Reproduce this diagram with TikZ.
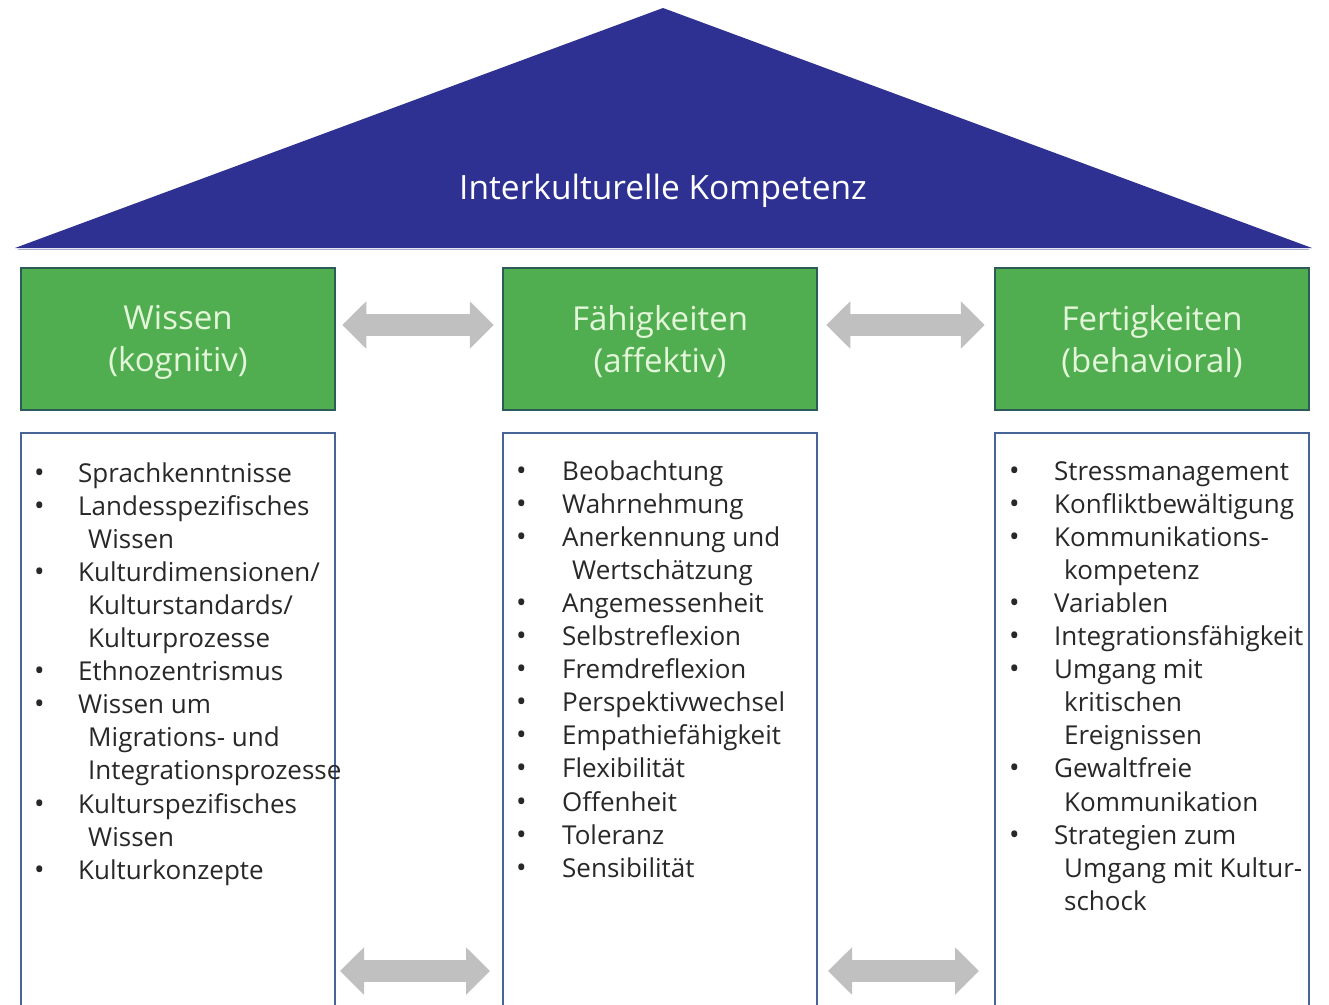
\documentclass[tikz,border=0pt]{standalone}
\usepackage{fontspec}
\setmainfont{Open Sans}
\usetikzlibrary{arrows.meta}
\definecolor{roofblue}{RGB}{46,49,146}
\definecolor{boxgreen}{RGB}{80,174,80}
\definecolor{boxedge}{RGB}{44,92,88}
\definecolor{hdrtext}{RGB}{228,246,218}
\definecolor{arrgray}{RGB}{192,192,192}
\definecolor{listedge}{RGB}{72,100,150}
\definecolor{listtext}{RGB}{40,40,40}
\tikzset{
  hdr/.style={draw=boxedge, line width=2.5pt, fill=boxgreen, text=hdrtext,
    minimum width=314pt, minimum height=142pt, align=center, inner sep=0pt,
    font=\fontsize{33}{42}\selectfont},
  hdrtxt/.style={text=hdrtext, align=center, inner sep=0pt,
    font=\fontsize{33}{42}\selectfont},
  listbox/.style={draw=listedge, line width=2pt, fill=white,
    minimum width=314pt, minimum height=577pt, inner sep=0pt},
  item/.style={anchor=base west, inner sep=0pt, text=listtext,
    font=\fontsize{26}{33}\selectfont},
  bulletnode/.style={anchor=base west, inner sep=0pt, text=listtext,
    font=\fontsize{28}{33}\selectfont},
  grayarrow/.style={draw=arrgray, line width=22pt,
    {Triangle[length=24pt,width=46pt]}-{Triangle[length=24pt,width=46pt]}},
  title/.style={text=white, inner sep=0pt, font=\fontsize{33.5}{40}\selectfont}
}
\begin{document}
\begin{tikzpicture}[x=1pt,y=-1pt]
\clip (0,0) rectangle (1329,1004);
\fill[white] (0,0) rectangle (1329,1004);
% roof
\fill[roofblue] (15,248) -- (663,8) -- (1312,248) -- cycle;
\draw[roofblue!40, line width=1.5pt] (18,249.5) -- (1309,249.5);
\node[title] (roof) at (663,191) {Interkulturelle Kompetenz};
% header boxes
\node[hdr] (w) at (178,339) {};
\node[hdr] (f) at (660,339) {};
\node[hdr] (b) at (1152,339) {};
\node[hdrtxt] (wl) at (178,342) {Wissen\\(kognitiv)};
\node[hdrtxt] (fl) at (660,342) {Fähigkeiten\\(affektiv)};
\node[hdrtxt] (bl) at (1152,342) {Fertigkeiten\\(behavioral)};
% list boxes
\node[listbox] (lw) at (178,721.5) {};
\node[listbox] (lf) at (660,721.5) {};
\node[listbox] (lb) at (1152,721.5) {};
% arrows between header boxes
\draw[grayarrow, shorten <=6pt, shorten >=8pt] ([yshift=14pt]w.east) -- ([yshift=14pt]f.west);
\draw[grayarrow, shorten <=8pt, shorten >=9pt] ([yshift=14pt]f.east) -- ([yshift=14pt]b.west);
% arrows between list boxes
\draw[grayarrow, shorten <=4pt, shorten >=12pt] ([yshift=40pt]lw.south east) -- ([yshift=40pt]lf.south west);
\draw[grayarrow, shorten <=10pt, shorten >=15pt] ([yshift=40pt]lf.south east) -- ([yshift=40pt]lb.south west);
% list texts
\foreach \k/\t [count=\i] in {0/Sprachkenntnisse, 0/Landesspezifisches, 1/Wissen,
  0/{Kulturdimensionen/}, 1/{Kulturstandards/}, 1/Kulturprozesse, 0/Ethnozentrismus,
  0/Wissen um, 1/Migrations- und, 1/Integrationsprozesse, 0/Kulturspezifisches,
  1/Wissen, 0/Kulturkonzepte}{
  \node[item, name=wt\i] at ({78+10*\k},{482+33.1*(\i-1)}) {\t};
  \ifnum\k=0 \node[bulletnode, name=wb\i] at (34,{482+33.1*(\i-1)}) {•};\fi
}
\foreach \k/\t [count=\i] in {0/Beobachtung, 0/Wahrnehmung, 0/Anerkennung und,
  1/Wertschätzung, 0/Angemessenheit, 0/Selbstreflexion, 0/Fremdreflexion,
  0/Perspektivwechsel, 0/Empathiefähigkeit, 0/Flexibilität, 0/Offenheit,
  0/Toleranz, 0/Sensibilität}{
  \node[item, name=ft\i] at ({562+10*\k},{480+33.1*(\i-1)}) {\t};
  \ifnum\k=0 \node[bulletnode, name=fb\i] at (516,{480+33.1*(\i-1)}) {•};\fi
}
\foreach \k/\t [count=\i] in {0/Stressmanagement, 0/Konfliktbewältigung,
  0/Kommunikations-, 1/kompetenz, 0/Variablen, 0/Integrationsfähigkeit,
  0/Umgang mit, 1/kritischen, 1/Ereignissen, 0/Gewaltfreie, 1/Kommunikation,
  0/Strategien zum, 1/Umgang mit Kultur-, 1/schock}{
  \node[item, name=bt\i] at ({1054+10*\k},{480+33.1*(\i-1)}) {\t};
  \ifnum\k=0 \node[bulletnode, name=bb\i] at (1009,{480+33.1*(\i-1)}) {•};\fi
}
\end{tikzpicture}
\end{document}
